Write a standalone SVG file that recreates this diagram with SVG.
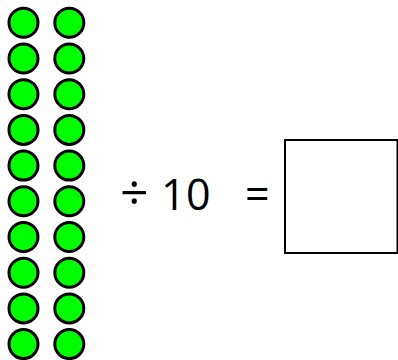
<svg xmlns="http://www.w3.org/2000/svg" width="398" height="360" viewBox="0 0 398 360">
<style>
.c{fill:#00ff00;stroke:#000;stroke-width:3}
.t{font-family:"Open Sans","Noto Sans",sans-serif;font-size:43px;fill:#000}
</style>
<rect width="398" height="360" fill="#fff"/>
<g id="counters">
<circle class="c" cx="23.5" cy="22.8" r="14.5"/><circle class="c" cx="69.3" cy="22.8" r="14.5"/>
<circle class="c" cx="23.5" cy="58.5" r="14.5"/><circle class="c" cx="69.3" cy="58.5" r="14.5"/>
<circle class="c" cx="23.5" cy="94.2" r="14.5"/><circle class="c" cx="69.3" cy="94.2" r="14.5"/>
<circle class="c" cx="23.5" cy="129.9" r="14.5"/><circle class="c" cx="69.3" cy="129.9" r="14.5"/>
<circle class="c" cx="23.5" cy="165.6" r="14.5"/><circle class="c" cx="69.3" cy="165.6" r="14.5"/>
<circle class="c" cx="23.5" cy="201.3" r="14.5"/><circle class="c" cx="69.3" cy="201.3" r="14.5"/>
<circle class="c" cx="23.5" cy="237" r="14.5"/><circle class="c" cx="69.3" cy="237" r="14.5"/>
<circle class="c" cx="23.5" cy="272.7" r="14.5"/><circle class="c" cx="69.3" cy="272.7" r="14.5"/>
<circle class="c" cx="23.5" cy="308.4" r="14.5"/><circle class="c" cx="69.3" cy="308.4" r="14.5"/>
<circle class="c" cx="23.5" cy="344.1" r="14.5"/><circle class="c" cx="69.3" cy="344.1" r="14.5"/>
</g>
<g id="equation">
<text class="t" y="209.5"><tspan x="120" font-size="50">÷</tspan><tspan x="161"> </tspan><tspan x="161">1</tspan><tspan x="186">0</tspan></text>
<text class="t" x="245" y="209.5">=</text>
<rect x="285" y="140" width="112.5" height="113" fill="#fff" stroke="#000" stroke-width="2"/>
</g>
</svg>
